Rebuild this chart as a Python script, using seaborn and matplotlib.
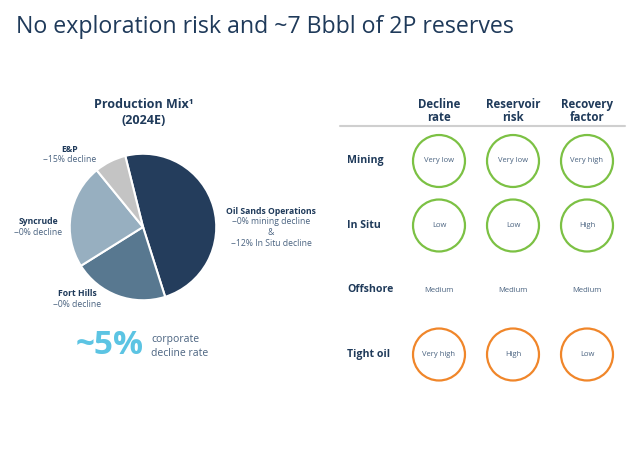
import matplotlib
matplotlib.use("Agg")
import matplotlib.pyplot as plt
import seaborn as sns
import pandas as pd

sns.set_theme(style="white")
plt.rcParams['font.family'] = ['Open Sans', 'DejaVu Sans']

# Production mix (2024E), share of total
segments = ["Oil Sands Operations", "Fort Hills", "Syncrude", "E&P"]
shares = [49, 21, 23, 7]
seg_notes = [["~0% mining decline", "&", "~12% In Situ decline"], ["~0% decline"],
             ["~0% decline"], ["~15% decline"]]
seg_colors = ["#243d5c", "#587890", "#97afc0", "#c4c4c4"]

# Risk table
metrics = ["Decline\nrate", "Reservoir\nrisk", "Recovery\nfactor"]
assets = ["Mining", "In Situ", "Offshore", "Tight oil"]
ratings = [
    ["Very low", "Very low", "Very high"],
    ["Low", "Low", "High"],
    ["Medium", "Medium", "Medium"],
    ["Very high", "High", "Low"],
]
asset_flag = ["good", "good", "neutral", "bad"]
flag_colors = {"good": "#7cc144", "bad": "#f0862a"}

NAVY = "#1f3a5a"
GREY_TXT = "#4a6380"

fig = plt.figure(figsize=(6.4, 4.7), dpi=100)
ax = fig.add_axes([0, 0, 1, 1])
ax.set_xlim(0, 640)
ax.set_ylim(470, 0)
ax.axis("off")

ax.text(16, 27, "No exploration risk and ~7 Bbbl of 2P reserves", fontsize=16.7,
        color=NAVY, va="center", ha="left")

# --- pie ---
cx, cy, r = 143, 227, 74
pax = fig.add_axes([(cx - r) / 640, (470 - cy - r) / 470, 2 * r / 640, 2 * r / 470])
pax.pie(shares, colors=seg_colors, startangle=104, counterclock=False,
        wedgeprops=dict(edgecolor="white", linewidth=1.5))
pax.set_xlim(-1.01, 1.01)
pax.set_ylim(-1.01, 1.01)
pax.set_aspect("auto")

ax.text(144, 104, "Production Mix¹", fontsize=9, fontweight="bold", color=NAVY, ha="center", va="center")
ax.text(144, 120, "(2024E)", fontsize=9, fontweight="bold", color=NAVY, ha="center", va="center")

label_pos = {"Oil Sands Operations": (271, 211), "Fort Hills": (77, 294),
             "Syncrude": (38, 222), "E&P": (70, 149)}
for name, note in zip(segments, seg_notes):
    lx, ly = label_pos[name]
    ax.text(lx, ly, name, fontsize=6.2, fontweight="bold", color=NAVY, ha="center", va="center")
    for k, line in enumerate(note):
        ax.text(lx, ly + (k + 1) * 10.7, line, fontsize=6.2, color=GREY_TXT, ha="center", va="center")

ax.text(144, 346, "~5%", fontsize=24, fontweight="bold", color="#5cc4e3", ha="right", va="center")
ax.text(151, 346.5, "corporate\ndecline rate", fontsize=7.5, color=GREY_TXT, ha="left", va="center",
        linespacing=1.3)

# --- table ---
col_x0, col_dx = 439, 74
row_y0, row_dy = 161, 64.5
for j, m in enumerate(metrics):
    ax.text(col_x0 + j * col_dx, 111, m, fontsize=8.3, fontweight="bold", color=NAVY,
            ha="center", va="center", linespacing=1.0)
ax.plot([340, 625], [126, 126], color="#cfcfcf", lw=1.5)

rows = []
for i, a in enumerate(assets):
    ax.text(347, row_y0 + i * row_dy, a, fontsize=7.6, fontweight="bold", color=NAVY,
            ha="left", va="center")
    for j, m in enumerate(metrics):
        rows.append(dict(x=col_x0 + j * col_dx, y=row_y0 + i * row_dy, text=ratings[i][j], flag=asset_flag[i]))
        ax.text(col_x0 + j * col_dx, row_y0 + i * row_dy, ratings[i][j], fontsize=5.5,
                color=GREY_TXT, ha="center", va="center")
df = pd.DataFrame(rows)
circ = df[df["flag"] != "neutral"]
sns.scatterplot(data=circ, x="x", y="y", hue="flag", palette=flag_colors, s=1400,
                facecolor="none", linewidth=1.6, legend=False, ax=ax)
# scatterplot sets edge colours via hue; make faces empty
for coll in ax.collections:
    coll.set_edgecolor([flag_colors[f] for f in circ["flag"]])
    coll.set_facecolor("none")
ax.set_xlim(0, 640)
ax.set_ylim(470, 0)

fig.savefig("out.png", dpi=100)
